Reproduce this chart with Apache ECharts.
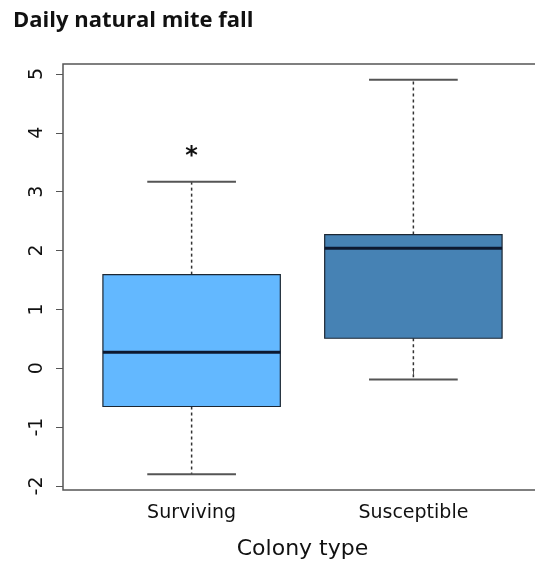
<!DOCTYPE html>
<html><head><meta charset="utf-8">
<script src="https://cdn.jsdelivr.net/npm/echarts@6/dist/echarts.min.js"></script>
<style>html,body{margin:0;padding:0;background:#fff}#c{width:535px;height:567px}</style>
</head><body><div id="c"></div>
<script>
// ---- data ----
const categories = ['Surviving', 'Susceptible'];
const whiskerLow  = [-1.80, -0.19];
const q1          = [-0.65,  0.51];
const median      = [ 0.27,  2.04];
const q3          = [ 1.59,  2.27];
const whiskerHigh = [ 3.17,  4.90];
const annotationX = [1];
const annotationY = [3.64];
const annotationText = ['*'];
const yTicks = [-2, -1, 0, 1, 2, 3, 4, 5];
const xTicks = [1, 2];

// ---- styling ----
const fillColors = ['#63B8FF', '#4682B4'];
const lo = Math.min(...whiskerLow), hi = Math.max(...whiskerHigh);
const pad = 0.04 * (hi - lo);
const yMin = lo - pad, yMax = hi + pad;
const xMin = 0.5 - 0.04 * categories.length, xMax = categories.length + 0.5 + 0.04 * categories.length;

const boxData = categories.map((c, i) => [i + 1, whiskerLow[i], q1[i], median[i], q3[i], whiskerHigh[i]]);
const annData = annotationX.map((x, i) => [x, annotationY[i], annotationText[i]]);

const chart = echarts.init(document.getElementById('c'), null, {renderer: 'canvas'});
const labelFont = 'DejaVu Sans';
chart.setOption({
  animation: false,
  backgroundColor: '#fff',
  title: {
    text: 'Daily natural mite fall',
    left: 8, top: 5,
    textStyle: {fontFamily: 'Open Sans', fontWeight: 'bold', fontSize: 22, color: '#111'}
  },
  grid: {left: 63, top: 64, right: -7, bottom: 77, outerBoundsMode: 'none', containLabel: false,
    show: true, borderColor: '#555', borderWidth: 1.5, backgroundColor: 'transparent'},
  xAxis: {
    type: 'value', min: xMin, max: xMax,
    axisLine: {show: false},
    splitLine: {show: false},
    axisTick: {show: true, customValues: xTicks, length: 6, lineStyle: {color: '#555', width: 1}},
    axisLabel: {customValues: xTicks, formatter: v => categories[Math.round(v) - 1], fontFamily: labelFont, fontSize: 19, color: '#111', margin: 14},
    name: 'Colony type', nameLocation: 'middle', nameGap: 48,
    nameTextStyle: {fontFamily: labelFont, fontSize: 22, color: '#111'}
  },
  yAxis: {
    type: 'value', min: yMin, max: yMax,
    axisLine: {show: false},
    splitLine: {show: false},
    axisTick: {show: true, customValues: yTicks, length: 7, lineStyle: {color: '#555', width: 1}},
    axisLabel: {customValues: yTicks, rotate: 90, fontFamily: labelFont, fontSize: 19, color: '#111', margin: 16}
  },
  series: [{
    type: 'custom',
    data: boxData,
    encode: {x: 0, y: [1, 2, 3, 4, 5]},
    renderItem: function (params, api) {
      const x = api.value(0);
      const wl = api.value(1), a = api.value(2), m = api.value(3), b = api.value(4), wh = api.value(5);
      const tl = api.coord([x - 0.4, b]);
      const br = api.coord([x + 0.4, a]);
      const mL = api.coord([x - 0.4, m]);
      const mR = api.coord([x + 0.4, m]);
      const c = api.coord([x, b]);
      const cTop = api.coord([x, wh]);
      const cLow = api.coord([x, wl]);
      const cQ1 = api.coord([x, a]);
      const capL = api.coord([x - 0.2, wh])[0], capR = api.coord([x + 0.2, wh])[0];
      const dash = {stroke: '#333', lineWidth: 1.5, lineDash: [3, 3]};
      const capStyle = {stroke: '#555', lineWidth: 2};
      return {
        type: 'group',
        children: [
          {type: 'line', shape: {x1: c[0], y1: c[1], x2: cTop[0], y2: cTop[1]}, style: dash},
          {type: 'line', shape: {x1: cQ1[0], y1: cQ1[1], x2: cLow[0], y2: cLow[1]}, style: dash},
          {type: 'line', shape: {x1: capL, y1: cTop[1], x2: capR, y2: cTop[1]}, style: capStyle},
          {type: 'line', shape: {x1: capL, y1: cLow[1], x2: capR, y2: cLow[1]}, style: capStyle},
          {type: 'rect', shape: {x: tl[0], y: tl[1], width: br[0] - tl[0], height: br[1] - tl[1]},
            style: {fill: fillColors[params.dataIndex], stroke: '#1c2733', lineWidth: 1.2}},
          {type: 'line', shape: {x1: mL[0], y1: mL[1], x2: mR[0], y2: mR[1]}, style: {stroke: '#0c1830', lineWidth: 3}}
        ]
      };
    }
  }, {
    type: 'custom',
    data: annData,
    encode: {x: 0, y: 1},
    renderItem: function (params, api) {
      const p = api.coord([api.value(0), api.value(1)]);
      return {
        type: 'text', x: p[0], y: p[1] + 3,
        style: {text: annData[params.dataIndex][2], align: 'center', verticalAlign: 'middle',
          font: 'bold 24px "DejaVu Sans"', fill: '#111'}
      };
    }
  }]
});
</script>
</body></html>
